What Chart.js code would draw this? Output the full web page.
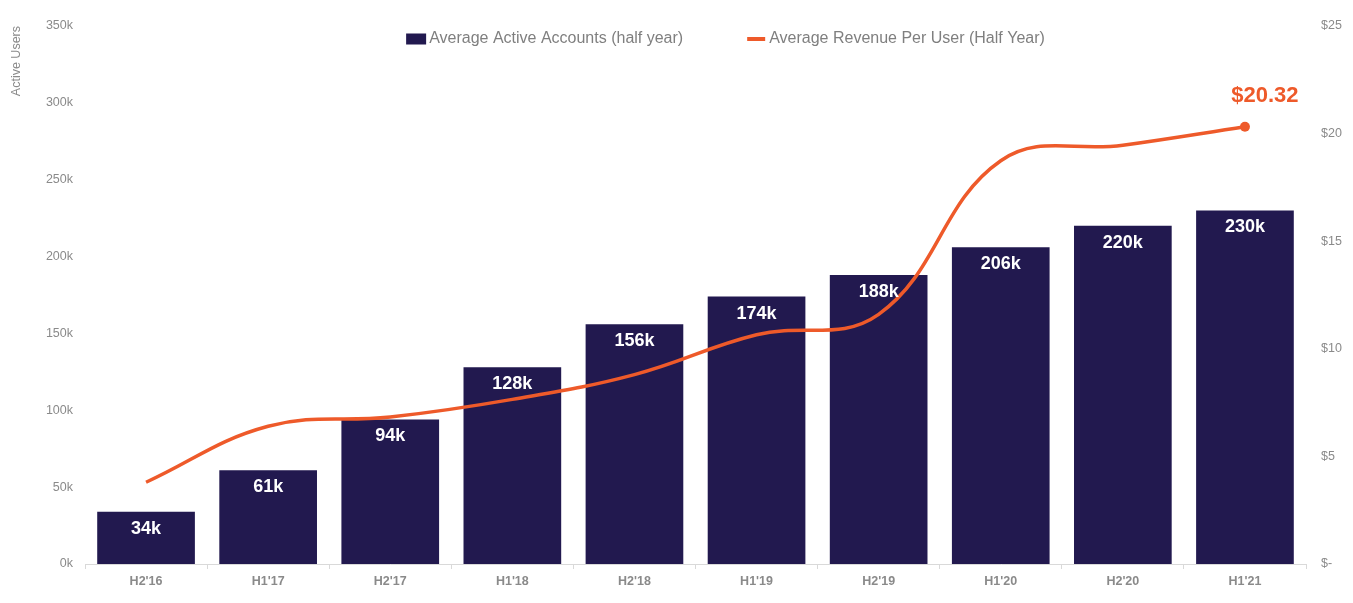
<!DOCTYPE html>
<html>
<head>
<meta charset="utf-8">
<script src="https://cdn.jsdelivr.net/npm/chart.js@4.4.1/dist/chart.umd.min.js"></script>
<style>
html,body{margin:0;padding:0;background:#ffffff;}
#wrap{width:1353px;height:603px;position:relative;}
</style>
</head>
<body>
<div id="wrap"><canvas id="c"></canvas></div>
<script>
// ---- data ----
const categories = ["H2'16","H1'17","H2'17","H1'18","H2'18","H1'19","H2'19","H1'20","H2'20","H1'21"];
const activeAccounts = [34000, 61000, 94000, 128000, 156000, 174000, 188000, 206000, 220000, 230000];
const arpu = [3.80, 6.40, 6.83, 7.65, 8.80, 10.65, 11.60, 18.74, 19.46, 20.32];
const barLabel = "Average Active Accounts (half year)";
const lineLabel = "Average Revenue Per User (Half Year)";
const leftAxisTitle = "Active Users";
const leftAxisMax = 350000, leftAxisStep = 50000;
const rightAxisMax = 25, rightAxisStep = 5;

// ---- styles ----
const NAVY = '#22194f';
const ORANGE = '#ee5a2a';
const GRAY = '#8a8a8a';
const FONT = '"Liberation Sans", Arial, Helvetica, sans-serif';

const fmtK = v => Math.round(v / 1000) + 'k';
const fmtDollar = v => v === 0 ? '$-' : '$' + v;

const overlay = {
  id: 'overlay',
  afterDatasetsDraw(chart) {
    const ctx = chart.ctx;
    ctx.save();
    // bar value labels
    const barMeta = chart.getDatasetMeta(1);
    ctx.font = 'bold 18px ' + FONT;
    ctx.fillStyle = '#ffffff';
    ctx.textAlign = 'center';
    ctx.textBaseline = 'middle';
    barMeta.data.forEach((el, i) => {
      ctx.fillText(fmtK(activeAccounts[i]), el.x, el.y + 17);
    });
    // last ARPU label
    const lineMeta = chart.getDatasetMeta(0);
    const li = arpu.length - 1;
    const last = lineMeta.data[li];
    ctx.font = 'bold 22px ' + FONT;
    ctx.fillStyle = ORANGE;
    ctx.fillText('$' + arpu[li].toFixed(2), last.x + 20, last.y - 31);

    // legend
    const ly = 39;
    ctx.font = '16px ' + FONT;
    ctx.textAlign = 'left';
    ctx.textBaseline = 'middle';
    const w1 = ctx.measureText(barLabel).width;
    const w2 = ctx.measureText(lineLabel).width;
    const total = 20 + 3 + w1 + 64 + 18 + 4 + w2;
    let x = 725.5 - total / 2;
    ctx.fillStyle = NAVY;
    ctx.fillRect(x, ly - 5.5, 20, 11);
    ctx.fillStyle = '#7f7f7f';
    ctx.fillText(barLabel, x + 23, ly);
    x += 23 + w1 + 64;
    ctx.strokeStyle = ORANGE;
    ctx.lineWidth = 4;
    ctx.beginPath();
    ctx.moveTo(x, ly);
    ctx.lineTo(x + 18, ly);
    ctx.stroke();
    ctx.fillStyle = '#7f7f7f';
    ctx.fillText(lineLabel, x + 22, ly);
    ctx.restore();
  }
};

new Chart(document.getElementById('c'), {
  data: {
    labels: categories,
    datasets: [
      {
        type: 'line',
        label: lineLabel,
        data: arpu,
        yAxisID: 'y1',
        borderColor: ORANGE,
        backgroundColor: ORANGE,
        borderWidth: 3.5,
        tension: 0.4,
        fill: false,
        pointRadius: arpu.map((v, i) => i === arpu.length - 1 ? 5 : 0),
        pointHoverRadius: arpu.map((v, i) => i === arpu.length - 1 ? 5 : 0),
        pointBackgroundColor: ORANGE,
        pointBorderWidth: 0,
        order: 0
      },
      {
        type: 'bar',
        label: barLabel,
        data: activeAccounts,
        yAxisID: 'y',
        backgroundColor: NAVY,
        categoryPercentage: 0.8,
        barPercentage: 1.0,
        order: 1
      }
    ]
  },
  options: {
    responsive: true,
    maintainAspectRatio: false,
    animation: false,
    layout: { padding: { top: 26, left: 0, right: 0, bottom: 0 } },
    plugins: { legend: { display: false }, tooltip: { enabled: false } },
    scales: {
      x: {
        offset: true,
        grid: { display: true, offset: true, drawOnChartArea: false, drawTicks: true, tickLength: 5, color: '#d9d9d9', lineWidth: 1 },
        border: { display: true, color: '#d9d9d9', width: 1 },
        ticks: { font: { family: FONT, size: 12.5, weight: 'bold' }, color: GRAY, padding: 5, maxRotation: 0, autoSkip: false },
        afterFit(s) { s.height = 39; }
      },
      y: {
        position: 'left',
        min: 0,
        max: leftAxisMax,
        grid: { display: false, drawTicks: false },
        border: { display: false },
        ticks: { stepSize: leftAxisStep, callback: v => fmtK(v), font: { family: FONT, size: 12.5 }, color: GRAY, padding: 12 },
        title: { display: true, text: leftAxisTitle, align: 'end', font: { family: FONT, size: 12.5 }, color: GRAY, padding: { top: 9, bottom: 0 } },
        afterFit(s) { s.width = 85; }
      },
      y1: {
        position: 'right',
        min: 0,
        max: rightAxisMax,
        grid: { display: false, drawTicks: false },
        border: { display: false },
        ticks: { stepSize: rightAxisStep, callback: v => fmtDollar(v), font: { family: FONT, size: 12.5 }, color: GRAY, padding: 15 },
        afterFit(s) { s.width = 47; }
      }
    }
  },
  plugins: [overlay]
});
</script>
</body>
</html>
